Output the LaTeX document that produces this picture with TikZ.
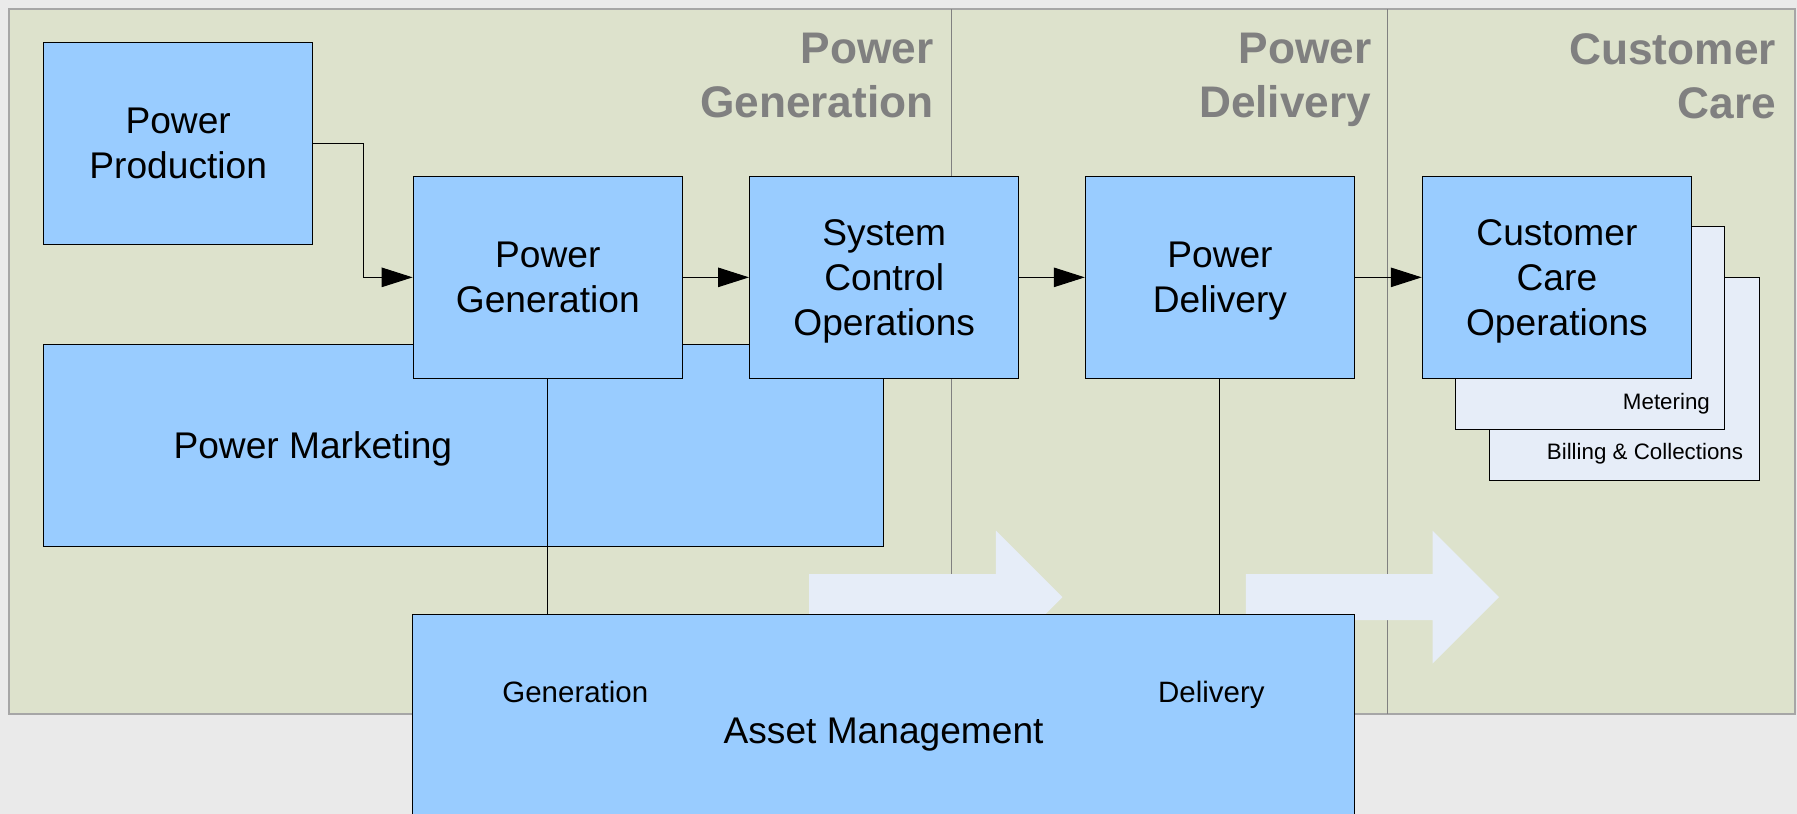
\documentclass[tikz,border=0pt]{standalone}
\usepackage{fontspec}
\setmainfont{Liberation Sans}
\usetikzlibrary{positioning,arrows.meta}
\definecolor{panel}{HTML}{DDE2CC}
\definecolor{boxblue}{HTML}{99CCFF}
\definecolor{pale}{HTML}{E6EDF8}
\definecolor{backgray}{HTML}{EAEAEA}
\definecolor{headgray}{HTML}{808080}
\tikzset{
every picture/.style={
line width=0.9pt
}}

\begin{document}
\begin{tikzpicture}[x=1pt, y=-1pt, >={Triangle[length=27pt,width=17pt]},
block/.style = {rectangle, draw=black, fill=boxblue, align=center, inner sep=0pt, text depth=0pt,
  minimum width=235pt, minimum height=176pt, font=\fontsize{32.4}{39}\selectfont},
subblock/.style = {rectangle, draw=black, fill=pale, minimum width=235pt, minimum height=177pt},
head/.style = {anchor=east, align=right, inner sep=0pt, text depth=0pt, text=headgray,
  font=\fontsize{38.6}{47}\selectfont\bfseries},
note/.style = {anchor=east, inner sep=0pt, text depth=0pt, font=\fontsize{19.5}{23}\selectfont},
tag/.style = {text depth=0pt, font=\fontsize{25.7}{30}\selectfont},
bigarrow/.style = {fill=pale, draw=none}]

\clip (0,0) rectangle (1568,710);
\fill[backgray] (0,0) rectangle (1568,710);
\draw[fill=panel, draw=gray!70, line width=1.4pt] (8,8) rectangle (1566,623);
\draw[gray] (830,8) -- (830,623);
\draw[gray] (1211,8) -- (1211,623);

\node[head] at (815,66) (hgen) {Power\\Generation};
\node[head] at (1197,66) (hdel) {Power\\Delivery};
\node[head] at (1550,66) (hcare) {Customer\\Care};

% flow arrows in the background
\fill[bigarrow] (706,501) -- (869,501) -- (869,463) -- (927,521) -- (869,579) -- (869,541) -- (706,541) -- cycle;
\fill[bigarrow] (1087,501) -- (1250,501) -- (1250,463) -- (1308,521) -- (1250,579) -- (1250,541) -- (1087,541) -- cycle;

\node[block, minimum width=733pt] at (404.5,389) (pm) {};
\node[block, draw=none, fill=none] at (273,388) (pmtext) {Power Marketing};

\node[block] at (155.5,125) (pp) {Power\\Production};
\node[block] at (478,242) (pg) {Power\\Generation};
\node[block] at (771.5,242) (sc) {System\\Control\\Operations};
\node[block] at (1064.5,242) (pd) {Power\\Delivery};

\node[subblock] at (1417.5,330.5) (bc) {};
\node[note] at ([xshift=-14pt,yshift=26pt]bc.south east) {Billing \& Collections};
\node[subblock] at (1387.5,286.5) (mt) {};
\node[note] at ([xshift=-13pt,yshift=25pt]mt.south east) {Metering};
\node[block] at (1358.5,242) (cc) {Customer\\Care\\Operations};

\draw[->] (pp.east) -- ++(44,0) |- (pg.west);
\draw[->] (pg) -- (sc);
\draw[->] (sc) -- (pd);
\draw[->] (pd) -- (cc);

\node[block, minimum width=822pt, minimum height=204pt] at (771,638) (am) {Asset Management};
\node[tag] at (502,604) (amgen) {Generation};
\node[tag] at (1057,604) (amdel) {Delivery};

\draw (pg.south) -- (pg.south |- am.north);
\draw (pd.south) -- (pd.south |- am.north);
\end{tikzpicture}
\end{document}
